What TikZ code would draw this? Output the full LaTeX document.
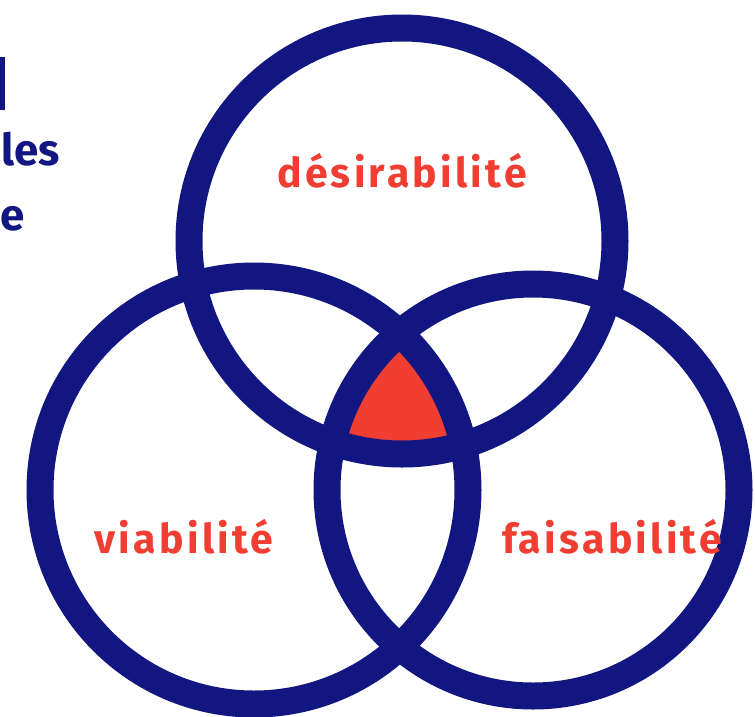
\documentclass[tikz,border=0pt]{standalone}
\usepackage{fontspec}
\setmainfont{Fira Sans}
\usetikzlibrary{positioning}
\definecolor{navy}{RGB}{18,22,128}
\definecolor{venred}{RGB}{240,62,50}

\begin{document}
\begin{tikzpicture}[
			x=1pt, y=-1pt,
			ring/.style={draw=navy, line width=27pt},
			critere/.style={text=venred, font=\fontsize{41}{45}\selectfont\bfseries\addfontfeature{LetterSpace=8}, anchor=base, inner sep=0pt},
			titre/.style={text=navy, font=\fontsize{44}{48}\selectfont\bfseries, inner sep=0pt}
		]

		\useasboundingbox (0,0) rectangle (755,716);

		\coordinate (cd) at (402,241);
		\coordinate (cv) at (254,490);
		\coordinate (cf) at (533,490);

		\begin{scope}
			\clip (cd) circle [radius=213];
			\clip (cv) circle [radius=214];
			\fill[venred] (cf) circle [radius=206];
		\end{scope}

		\draw[ring] (cd) circle [radius=213];
		\draw[ring] (cv) circle [radius=214];
		\draw[ring] (cf) circle [radius=206];

		\node[critere] (des) at (402,187) {désirabilité};
		\node[critere] (via) at (184,553) {viabilité};
		\node[critere] (fai) at (612,553) {faisabilité};

		\node[titre, anchor=base east] (t1) at (60,165) {les};
		\node[titre, anchor=base west] (t2) at (0,230) {e};
		\fill[navy] (0,57) rectangle (5,110);

	\end{tikzpicture}
\end{document}
